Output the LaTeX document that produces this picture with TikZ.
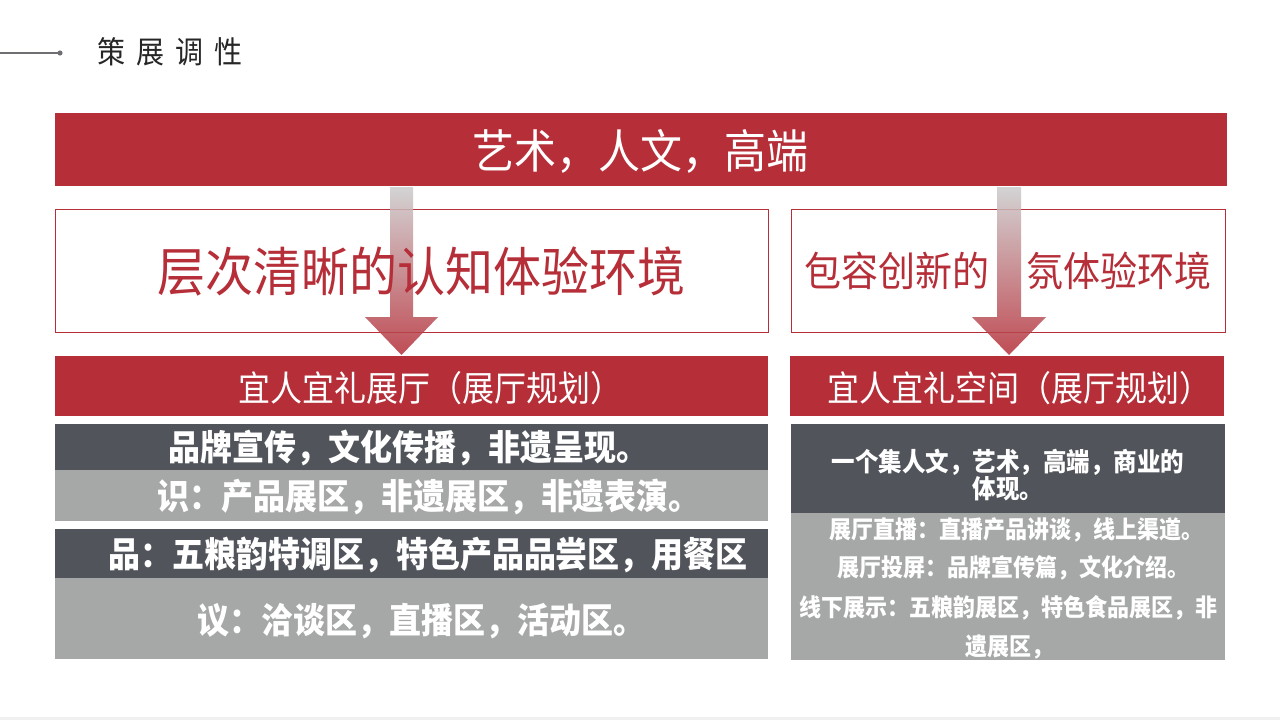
\documentclass[tikz,border=0pt]{standalone}
\usepackage{fontspec}
\setmainfont{Noto Sans CJK SC}
\definecolor{barred}{HTML}{B52E38}
\definecolor{bardark}{HTML}{51555B}
\definecolor{bargray}{HTML}{A5A8A7}
\definecolor{arrgray}{HTML}{CCCCCD}
\definecolor{headgray}{HTML}{6F6F73}
\newcommand{\vst}[1]{\scalebox{1}[1.1]{#1}}
\tikzset{
  bar/.style={rectangle, inner sep=0pt, outer sep=0pt, draw=none},
  redbar/.style={bar, fill=barred},
  darkbar/.style={bar, fill=bardark},
  graybar/.style={bar, fill=bargray},
  outbox/.style={bar, draw=barred, line width=1pt, fill=white},
  txt/.style={inner sep=0pt, outer sep=0pt},
  wtext/.style={txt, text=white},
  rtext/.style={txt, text=barred},
  bigarrow/.style={top color=arrgray, bottom color=barred, fill opacity=0.85, draw=none},
}
\begin{document}
\begin{tikzpicture}[x=1pt,y=-1pt]
\useasboundingbox (0,0) rectangle (1280,720);
\fill[white] (0,0) rectangle (1280,720);
\fill[black!6] (0,717) rectangle (1280,720);

% header
\coordinate (hl) at (0,53);
\coordinate (hd) at (60,53);
\draw[headgray, line width=1.2pt] (hl) -- (hd);
\fill[headgray] (hd) circle (2.6);
\node[txt, text=black!85, font=\fontsize{28}{32}\selectfont] (title) at (170,52)
  {\vst{策\hspace{11pt}展\hspace{11pt}调\hspace{11pt}性}};

% top bar
\node[redbar, minimum width=1172pt, minimum height=73pt] (top) at (641,149.5) {};
\node[wtext, font=\fontsize{42}{48}\selectfont] (toptxt) at (640,151) {\vst{艺术，人文，高端}};

% outline boxes
\node[outbox, minimum width=712.5pt, minimum height=122.5pt] (lout) at (411.75,270.75) {};
\node[outbox, minimum width=434pt, minimum height=122.5pt] (rout) at (1008,270.75) {};

% arrows
\coordinate (la) at (401.5,187);
\coordinate (ra) at (1009,187);
\path[bigarrow] (la) ++(-11.5,0) -- ++(23,0) -- ++(0,130) -- ++(25,0) -- ++(-36.5,38) -- ++(-36.5,-38) -- ++(25,0) -- cycle;
\path[bigarrow] (ra) ++(-12,0) -- ++(24,0) -- ++(0,130) -- ++(25,0) -- ++(-37,38) -- ++(-37,-38) -- ++(25,0) -- cycle;

% outline texts (over the arrows)
\node[rtext, font=\fontsize{48}{54}\selectfont] (louttxt) at (421,271) {\vst{层次清晰的认知体验环境}};
\node[rtext, font=\fontsize{37}{42}\selectfont] (routtxt) at (1008,271) {\vst{包容创新的　氛体验环境}};

% red sub-bars
\node[redbar, minimum width=713pt, minimum height=60pt] (lred) at (411.5,386) {};
\node[wtext, font=\fontsize{32}{36}\selectfont] (lredtxt) at (430,388) {\vst{宜人宜礼展厅（展厅规划）}};
\node[redbar, minimum width=434pt, minimum height=60pt] (rred) at (1007,386) {};
\node[wtext, font=\fontsize{32}{36}\selectfont] (rredtxt) at (1019,388) {\vst{宜人宜礼空间（展厅规划）}};

% left stack
\node[darkbar, minimum width=713pt, minimum height=46pt] (ld1) at (411.5,447) {};
\node[wtext, font=\fontsize{32}{36}\bfseries] (ld1t) at (408,448) {\vst{品牌宣传，文化传播，非遗呈现。}};
\node[graybar, minimum width=713pt, minimum height=51pt] (lg1) at (411.5,495.5) {};
\node[wtext, font=\fontsize{32}{36}\bfseries] (lg1t) at (429,497) {\vst{识：产品展区，非遗展区，非遗表演。}};
\node[darkbar, minimum width=713pt, minimum height=49pt] (ld2) at (411.5,553.5) {};
\node[wtext, font=\fontsize{32}{36}\bfseries] (ld2t) at (428,555) {\vst{品：五粮韵特调区，特色产品品尝区，用餐区}};
\node[graybar, minimum width=713pt, minimum height=81pt] (lg2) at (411.5,618.5) {};
\node[wtext, font=\fontsize{32}{36}\bfseries] (lg2t) at (421,621) {\vst{议：洽谈区，直播区，活动区。}};

% right stack
\node[darkbar, minimum width=434pt, minimum height=89pt] (rd1) at (1007.5,468.5) {};
\node[wtext, align=center, font=\fontsize{23.5}{25}\bfseries] (rd1t) at (1008,475)
  {\vst{一个集人文，艺术，高端，商业的}\\\vst{体现。}};
\node[graybar, minimum width=434pt, minimum height=147pt] (rg1) at (1007.5,586.5) {};
\node[wtext, font=\fontsize{22}{26}\bfseries] (rl1) at (1016,530) {\vst{展厅直播：直播产品讲谈，线上渠道。}};
\node[wtext, font=\fontsize{22}{26}\bfseries] (rl2) at (1013,568) {\vst{展厅投屏：品牌宣传篇，文化介绍。}};
\node[wtext, font=\fontsize{22}{26}\bfseries] (rl3) at (1008,608) {\vst{线下展示：五粮韵展区，特色食品展区，非}};
\node[wtext, font=\fontsize{22}{26}\bfseries] (rl4) at (1009,647) {\vst{遗展区，}};
\end{tikzpicture}
\end{document}
